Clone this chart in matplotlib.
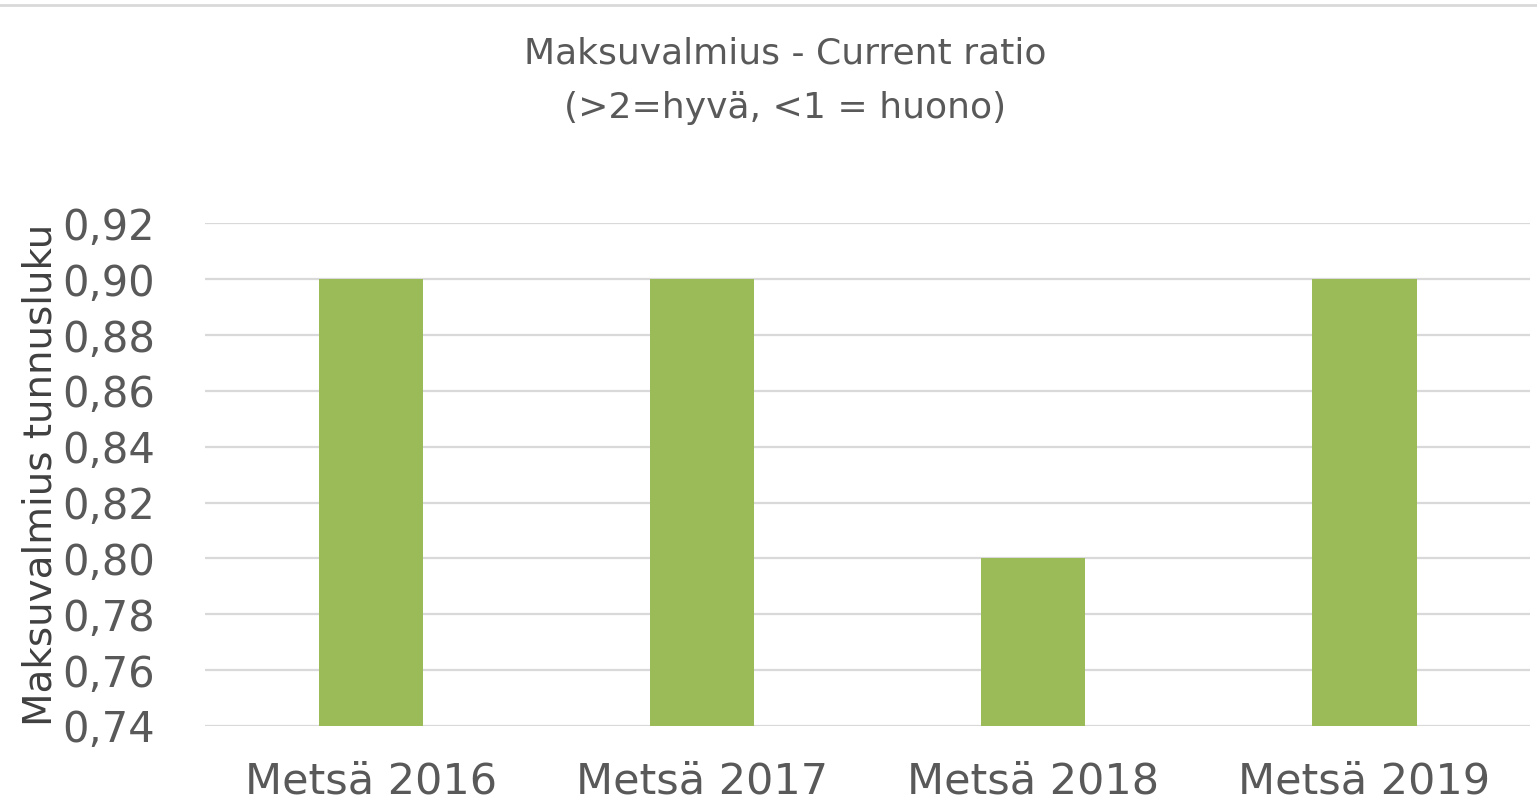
import matplotlib
matplotlib.use("Agg")
import matplotlib.pyplot as plt
from matplotlib.ticker import FixedLocator, FuncFormatter
from matplotlib.lines import Line2D

categories = ["Metsä 2016", "Metsä 2017", "Metsä 2018", "Metsä 2019"]
values = [0.90, 0.90, 0.80, 0.90]
yticks = [0.74, 0.76, 0.78, 0.80, 0.82, 0.84, 0.86, 0.88, 0.90, 0.92]
title = "Maksuvalmius - Current ratio\n(>2=hyvä, <1 = huono)"
ylabel = "Maksuvalmius tunnusluku"

fig = plt.figure(figsize=(15.37, 8.06), dpi=100)
ax = fig.add_axes([0.1335, 0.0993, 0.862, 0.6235])

x = range(len(categories))
ax.bar(x, values, width=0.315, color="#9BBB59", bottom=0, zorder=3)
ax.set_xlim(-0.5, len(categories) - 0.5)
ax.set_ylim(yticks[0], yticks[-1])
ax.yaxis.set_major_locator(FixedLocator(yticks))
ax.yaxis.set_major_formatter(FuncFormatter(lambda v, p: f"{v:.2f}".replace(".", ",")))
ax.set_xticks(list(x))
ax.set_xticklabels(categories)
ax.grid(axis="y", color="#D9D9D9", linewidth=1.6, zorder=0)
for s in ax.spines.values():
    s.set_visible(False)
ax.tick_params(axis="both", length=0, colors="#595959")
ax.tick_params(axis="x", pad=25, labelsize=31)
ax.tick_params(axis="y", pad=36, labelsize=30)
for lab in ax.get_xticklabels() + ax.get_yticklabels():
    lab.set_color("#595959")
ax.set_ylabel(ylabel, fontsize=28, color="#404040", labelpad=2)

fig.text(0.511, 0.955, title, ha="center", va="top", fontsize=26,
         color="#595959", linespacing=1.75)

fig.add_artist(Line2D([0, 1], [0.994, 0.994], transform=fig.transFigure,
                      color="#D9D9D9", linewidth=2))

fig.savefig("out.png", dpi=100, facecolor="white")
